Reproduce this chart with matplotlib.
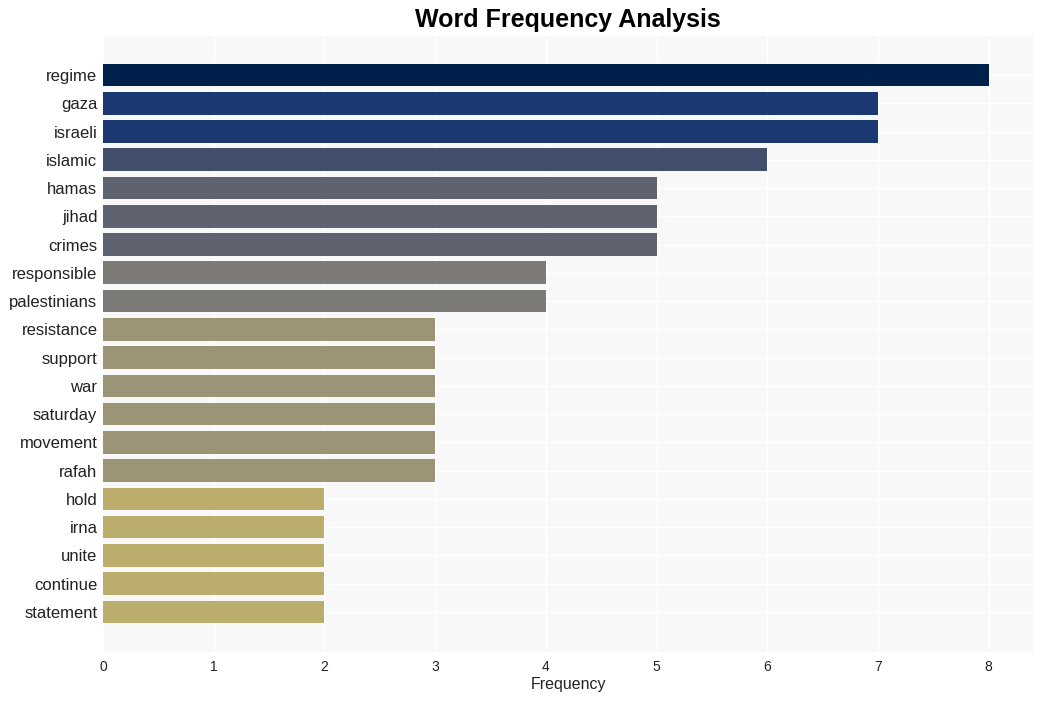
import matplotlib
matplotlib.use("Agg")
import matplotlib.pyplot as plt

plt.rcParams["font.family"] = ["Liberation Sans", "DejaVu Sans"]

words = ["regime", "gaza", "israeli", "islamic", "hamas", "jihad", "crimes",
         "responsible", "palestinians", "resistance", "support", "war",
         "saturday", "movement", "rafah", "hold", "irna", "unite", "continue",
         "statement"]
counts = [8, 7, 7, 6, 5, 5, 5, 4, 4, 3, 3, 3, 3, 3, 3, 2, 2, 2, 2, 2]

# colour per frequency level
level_colors = {8: "#00204c", 7: "#1b3870", 6: "#434e6c", 5: "#5f6370",
                4: "#7c7b78", 3: "#9b9477", 2: "#bbad6c"}
colors = [level_colors[c] for c in counts]

fig = plt.figure(figsize=(10.42, 7.01), dpi=100)
ax = fig.add_axes([103 / 1042, 49 / 701, 930 / 1042, 616 / 701])
ax.set_facecolor("#f8f8f8")

y = list(range(len(words)))
ax.barh(y, counts, height=0.8, color=colors, zorder=3)
ax.set_yticks(y)
ax.set_yticklabels(words, fontsize=12, color="#222222")
ax.set_ylim(len(words) - 1 + 1.42, -1.38)
ax.set_xlim(0, 8.4)
ax.set_xticks(range(9))
ax.tick_params(axis="x", labelsize=10, colors="#222222", length=0, pad=6)
ax.tick_params(axis="y", length=0, pad=4)
ax.grid(True, color="white", linewidth=1, zorder=0)
for s in ax.spines.values():
    s.set_visible(False)

ax.set_xlabel("Frequency", fontsize=11.5, color="#222222", labelpad=2)
fig.text(0.545, 0.971, "Word Frequency Analysis", ha="center", va="center",
         fontsize=18, fontweight="bold")

fig.savefig("out.png", dpi=100)
